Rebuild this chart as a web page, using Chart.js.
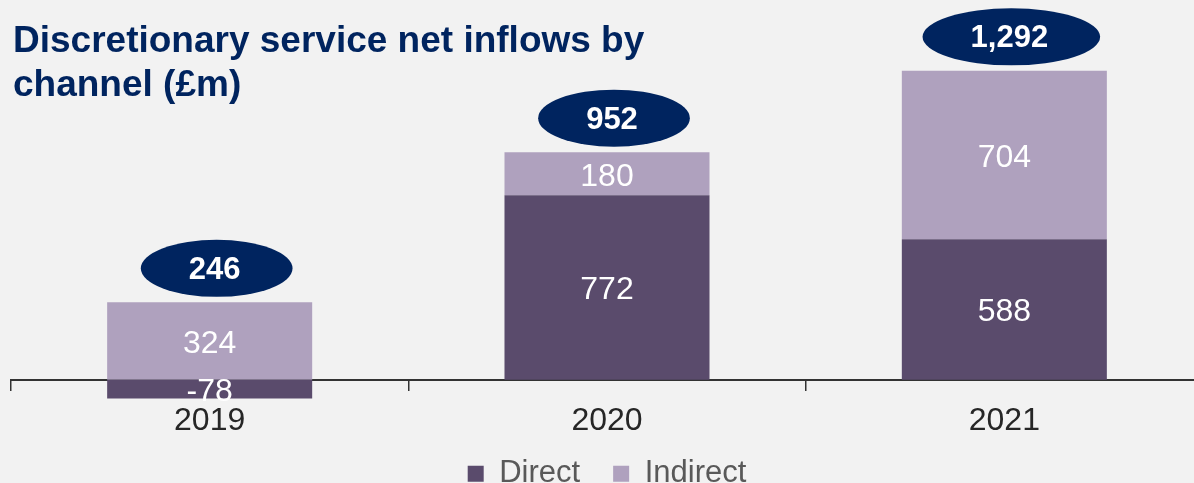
<!DOCTYPE html>
<html>
<head>
<meta charset="utf-8">
<title>Discretionary service net inflows by channel</title>
<script src="https://cdn.jsdelivr.net/npm/chart.js@4"></script>
<style>
  html, body {
    margin: 0;
    padding: 0;
    overflow: hidden;
    background: #f2f2f2;
    width: 1194px;
    height: 483px;
  }
  #wrap {
    position: relative;
    width: 1215px;
    height: 500px;
  }
  #title {
    position: absolute;
    left: 13px;
    top: 18px;
    margin: 0;
    font: bold 37px "Liberation Sans", Arial, sans-serif;
    line-height: 44px;
    color: #00245f;
    z-index: 2;
  }
  canvas { position: absolute; left: 0; top: 0; }
</style>
</head>
<body>
<div id="wrap">
  <h1 id="title">Discretionary service net inflows by<br>channel (£m)</h1>
  <canvas id="flowChart" width="1215" height="500"></canvas>
</div>
<script>
const years = ["2019", "2020", "2021"];
const direct = [-78, 772, 588];
const indirect = [324, 180, 704];
const totals = [246, 952, 1292];

const DIRECT_COLOR = "#5a4b6c";
const INDIRECT_COLOR = "#afa1be";
const NAVY = "#00245f";
const FONT = "'Liberation Sans', Arial, sans-serif";

// white numbers inside each bar segment
const segmentLabels = {
  id: "segmentLabels",
  afterDraw(chart) {
    const ctx = chart.ctx;
    ctx.save();
    ctx.font = "32px " + FONT;
    ctx.fillStyle = "#ffffff";
    ctx.textAlign = "center";
    ctx.textBaseline = "middle";
    chart.data.datasets.forEach((ds, i) => {
      chart.getDatasetMeta(i).data.forEach((bar, j) => {
        const v = ds.data[j];
        ctx.fillText(String(v), bar.x, (bar.y + bar.base) / 2 + 3);
      });
    });
    ctx.restore();
  }
};

// navy ellipse with the total above each stack
const totalBubbles = {
  id: "totalBubbles",
  afterDraw(chart) {
    const ctx = chart.ctx;
    ctx.save();
    ctx.font = "bold 31px " + FONT;
    ctx.textAlign = "center";
    ctx.textBaseline = "middle";
    totals.forEach((t, j) => {
      let top = Infinity, cx = 0;
      chart.data.datasets.forEach((ds, i) => {
        const bar = chart.getDatasetMeta(i).data[j];
        top = Math.min(top, bar.y, bar.base);
        cx = bar.x;
      });
      const text = t.toLocaleString("en-GB");
      const w = ctx.measureText(text).width;
      const x = cx + 7;
      const y = top - 34;
      ctx.fillStyle = NAVY;
      ctx.beginPath();
      ctx.ellipse(x, y, (w + 100) / 2, 28.5, 0, 0, Math.PI * 2);
      ctx.fill();
      ctx.fillStyle = "#ffffff";
      ctx.fillText(text, x - 2, y + 2);
    });
    ctx.restore();
  }
};

new Chart(document.getElementById("flowChart"), {
  type: "bar",
  data: {
    labels: years,
    datasets: [
      { label: "Direct", data: direct, backgroundColor: DIRECT_COLOR },
      { label: "Indirect", data: indirect, backgroundColor: INDIRECT_COLOR }
    ]
  },
  options: {
    responsive: false,
    animation: false,
    layout: { padding: { left: 11, right: 12, top: 45, bottom: 0.7 } },
    datasets: {
      bar: { categoryPercentage: 1, barPercentage: 0.516 }
    },
    scales: {
      x: {
        stacked: true,
        position: { y: 0 },
        z: 1,
        grid: {
          drawOnChartArea: false,
          drawTicks: true,
          tickLength: 10,
          color: "#333333",
          lineWidth: 1.5
        },
        border: { display: true, color: "#333333", width: 2 },
        ticks: {
          color: "#262626",
          padding: 12,
          font: { family: FONT, size: 32 }
        }
      },
      y: {
        stacked: true,
        display: false,
        min: -190,
        max: 1400
      }
    },
    plugins: {
      legend: {
        position: "bottom",
        labels: {
          boxWidth: 16,
          boxHeight: 16,
          padding: 33,
          color: "#595959",
          font: { family: FONT, size: 31 }
        }
      },
      tooltip: { enabled: false }
    }
  },
  plugins: [segmentLabels, totalBubbles]
});
</script>
</body>
</html>
